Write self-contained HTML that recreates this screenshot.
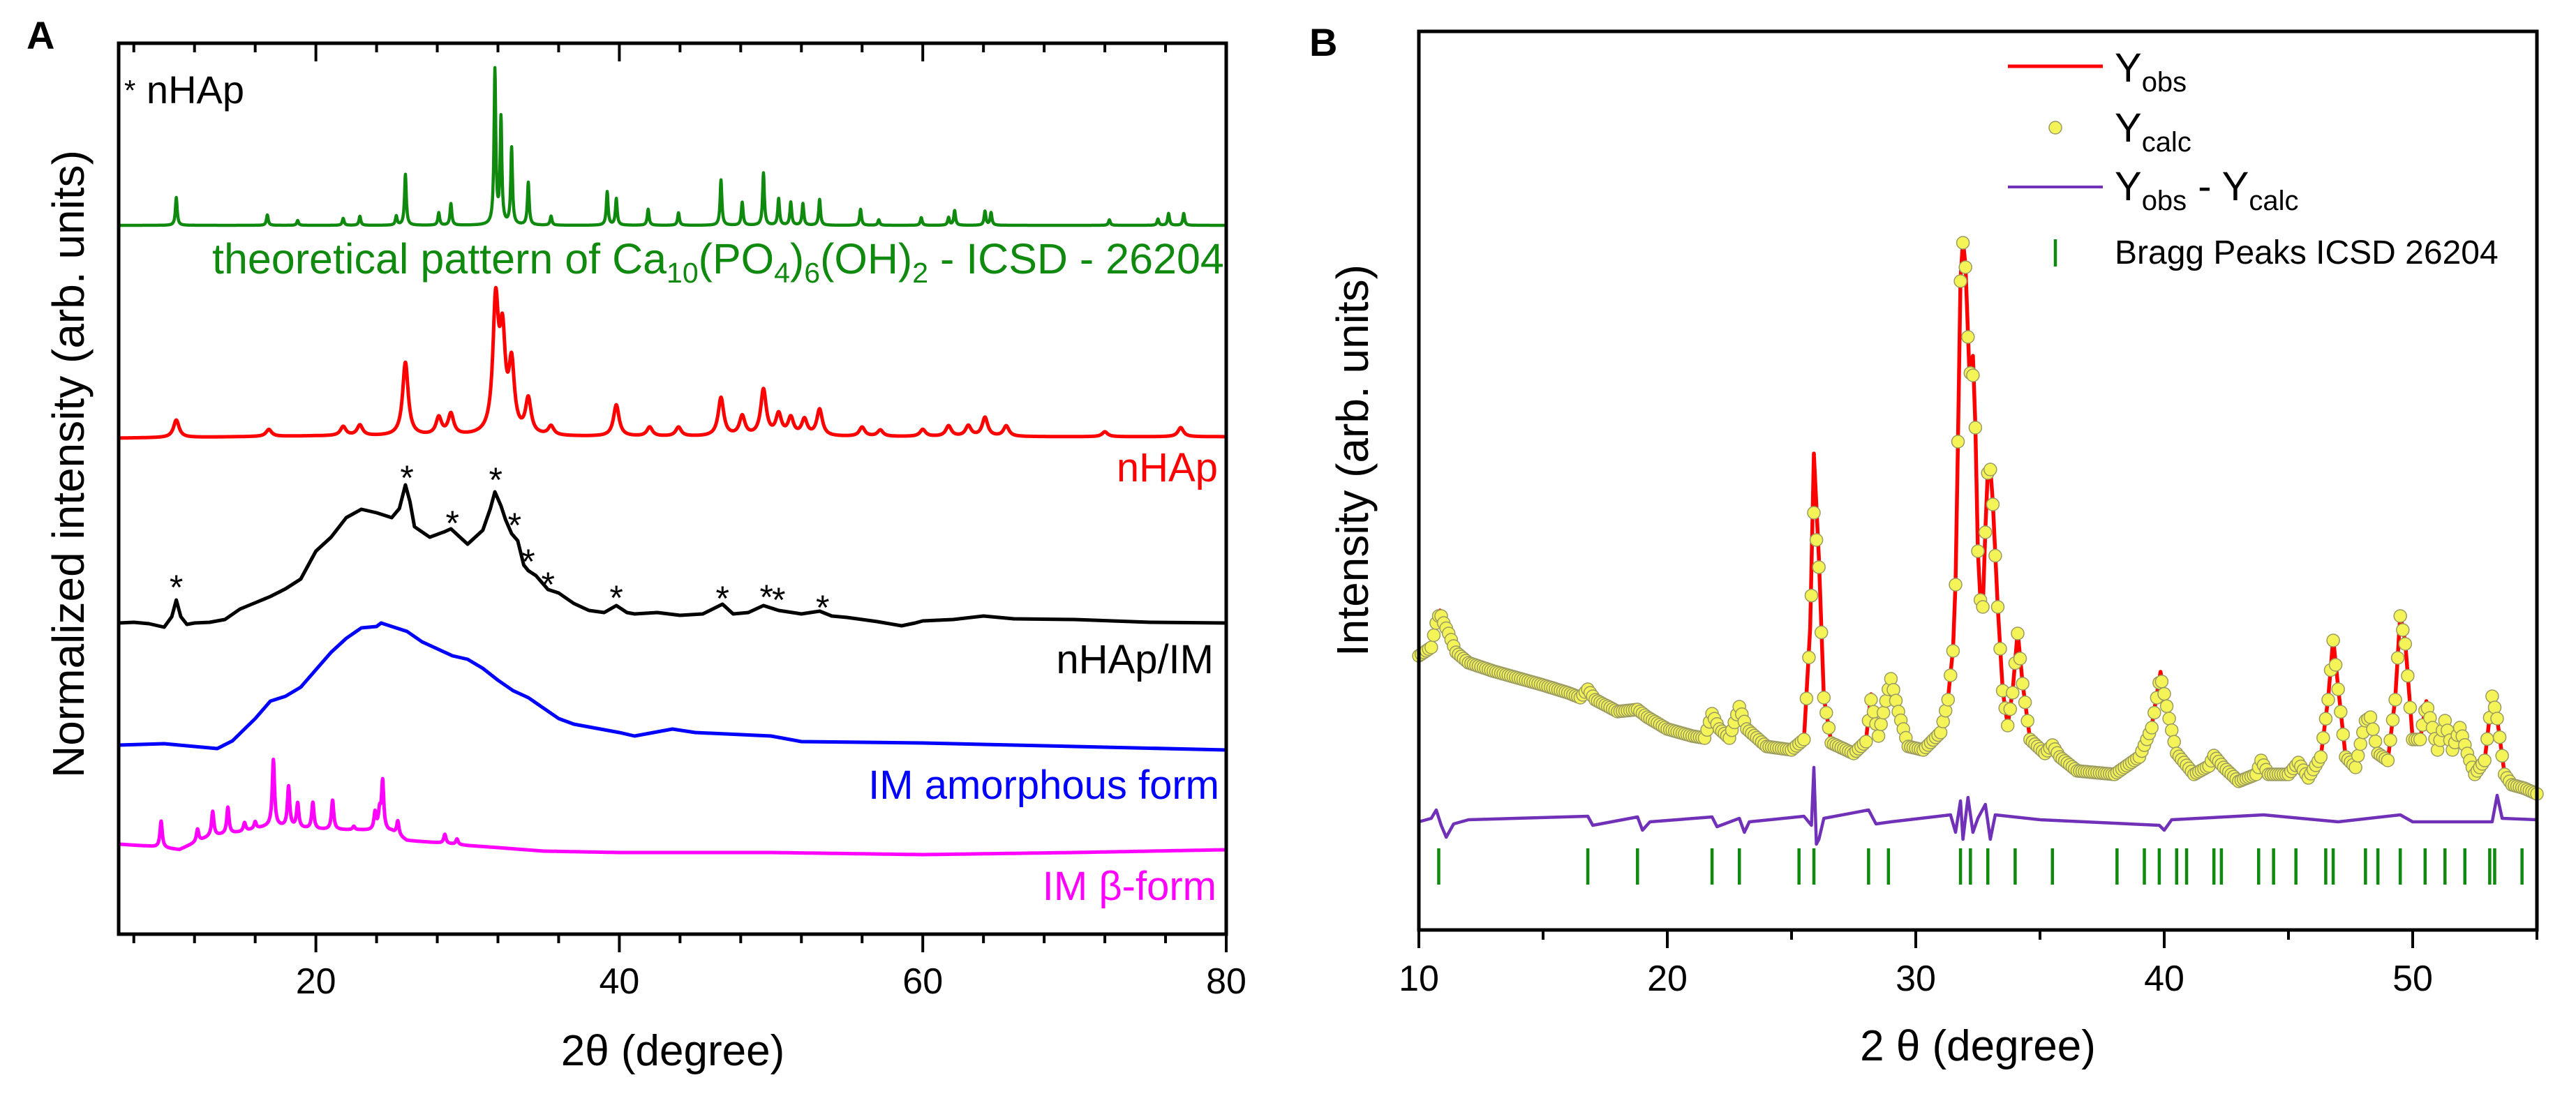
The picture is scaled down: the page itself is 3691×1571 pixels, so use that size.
<!DOCTYPE html>
<html><head><meta charset="utf-8"><style>
html,body{margin:0;padding:0;background:#fff;}
svg{display:block;font-family:"Liberation Sans",sans-serif;}
</style></head><body>
<svg id="fig" width="3691" height="1571" viewBox="0 0 3691 1571" xmlns="http://www.w3.org/2000/svg">
<rect width="3691" height="1571" fill="#fff"/>
<g id="panelA"></g>
<g id="panelB"></g>
</svg>
<script>
// ---------- Panel A data ----------
const greenPeakPos = [10.8,16.8,18.8,21.8,22.9,25.3,25.9,28.1,28.9,31.8,32.2,32.9,34.0,35.5,39.2,39.8,41.9,43.9,46.7,48.1,49.5,50.5,51.3,52.1,53.2,55.9,57.1,59.9,61.7,62.1,64.1,64.5,72.3,75.5,76.2,77.2];
const greenPeakH = [40,15,7,10,13,13,73,18,31,221,151,110,61,13,48,38,23,18,65,33,75,38,33,31,37,23,8,11,11,21,20,18,8,9,17,17];
const greenBase = [[7,1016],[80,1016]];
const redPeakPos = [10.8,16.9,21.8,22.9,25.9,28.1,28.9,31.85,32.3,32.9,34.0,35.5,39.8,42.0,43.9,46.7,48.1,49.5,50.5,51.3,52.2,53.2,56,57.2,60,61.7,63.0,64.1,65.5,72,77];
const redPeakH = [25,10,13,15,105,25,30,183,128,95,50,13,45,13,13,55,28,66,30,25,23,38,13,9,10,15,15,27,15,7,13];
const redBase = [[7,711],[20,714],[40,713],[80,713]];
const magPeakPos = [9.8,12.2,13.2,14.2,15.3,16.0,17.2,18.2,18.8,19.8,21.1,22.5,23.9,24.2,24.4,25.4,28.5,29.3];
const magPeakH = [38,18,35,38,12,10,95,58,35,38,42,5,25,25,70,20,13,8];
const magBase = [[7,129],[9,126],[11,121],[13,140],[15,146],[17,155],[20,150],[23,149],[25,147],[26,134],[28,131],[30,127],[32,124],[35,119],[40,117],[50,117],[60,114],[70,117],[80,121]];
const blackX = [7,8,9,10,10.5,10.8,11.1,11.5,12,13,14,15,16,17,18,19,20,21,22,23,24,25,25.5,25.9,26.2,26.5,27.5,28.5,28.9,29.5,30,31,31.5,31.8,32.2,32.5,32.9,33.3,33.7,34,34.5,35.3,36,37,38,39,39.8,40.5,41,42.5,44,45.5,46.8,47.5,48.5,49.5,50.5,52,53.2,54,55,57,58.6,59.5,60,62,64,66,70,75,80];
const blackY = [446,447,445,440,455,479,455,444,446,447,451,466,475,484,495,509,549,569,597,609,604,597,610,644,620,584,569,577,581,569,559,579,610,634,614,594,574,564,529,521,514,494,489,474,464,461,471,461,459,461,457,459,473,459,461,471,464,459,463,456,454,448,442,446,449,451,456,452,451,447,446];
const blueX = [7,10,12,13.5,14.5,16,17,18,19,20,21,22,23,24,24.3,25,26,27,28,29,30,31,32,33,34,35,36,37,38,40,41,42.5,43.5,45,50,52,60,70,80];
const blueY = [271,273,269,266,277,309,334,341,354,379,404,424,439,441,446,441,434,419,409,399,394,381,364,349,339,324,309,301,297,289,284,290,294,289,284,276,274,269,264];
const starX = [10.8,26.0,29.0,31.85,33.1,34.0,35.3,39.8,46.8,49.7,50.5,53.4];
const starY = [502,659,594,656,591,539,506,487,486,488,484,473];
const ticksA = [20,40,60,80];

// ---------- Panel B data ----------
const obsX = [10.0,10.5,10.7,10.85,11.0,11.2,11.5,12,13,14,15,16,16.5,16.8,17.1,18,18.8,19.2,20,21,21.5,21.8,22.1,22.5,22.9,23.2,24,25,25.5,25.75,25.9,26.1,26.3,26.6,27.5,28.0,28.2,28.5,28.9,29.0,29.3,29.7,30.3,31,31.3,31.5,31.6,31.7,31.8,31.9,32.0,32.15,32.3,32.4,32.5,32.6,32.7,32.8,32.9,33.0,33.1,33.3,33.5,33.7,33.9,34.1,34.3,34.6,35.2,35.5,35.8,36.5,38,39.0,39.5,39.85,40.2,40.5,41.2,41.8,42.0,42.4,43,43.7,43.9,44.2,45,45.4,45.8,46.3,46.6,46.8,47.0,47.3,47.7,48.1,48.3,48.6,49.0,49.3,49.5,49.7,50.0,50.3,50.55,50.8,51.0,51.3,51.6,51.9,52.2,52.5,52.9,53.2,53.4,53.7,54,54.5,55];
const obsY = [393,408,443,458,440,428,398,383,371,361,351,340,333,348,328,313,318,303,288,278,275,313,288,275,323,288,263,258,273,433,683,533,333,268,253,273,338,278,348,363,313,263,258,283,333,403,498,703,933,988,953,808,823,723,543,473,463,573,658,663,613,463,343,293,343,428,353,273,253,268,248,228,223,248,293,370,303,253,223,238,253,233,213,223,248,223,223,243,218,248,333,418,348,248,233,303,308,253,243,333,453,413,273,273,328,293,258,303,258,293,253,223,243,338,303,223,208,203,195];
const calcY = [393,405,440,455,440,425,398,383,371,361,351,340,333,345,330,313,316,305,288,278,275,310,288,275,320,288,263,258,273,420,598,520,333,268,253,270,330,278,345,360,313,263,258,283,330,400,495,700,930,985,950,800,795,720,543,473,463,570,655,660,610,463,343,293,340,425,353,273,253,265,248,228,223,248,290,365,303,253,223,235,250,233,213,223,243,223,223,240,218,248,330,415,345,248,233,300,305,253,243,330,450,410,273,273,325,290,258,300,258,290,253,223,243,335,303,223,208,203,195];
const diffX = [10,10.5,10.7,10.9,11.1,11.4,12,16.8,17,18.8,19,19.3,21.8,22,22.9,23.1,23.3,25.5,25.8,25.9,26.0,26.1,26.3,28.1,28.4,29,31.4,31.6,31.8,31.9,32.1,32.3,32.5,32.8,33.0,33.2,35,39.8,40,40.3,44,47,49.5,50,53.2,53.4,53.6,55];
const diffY = [155,160,172,150,133,152,158,163,150,162,143,155,162,148,160,140,155,163,150,233,123,130,160,172,152,155,165,140,185,130,190,140,160,180,130,165,158,150,143,158,165,155,165,155,155,193,160,158];
const braggPos = [10.8,16.8,18.8,21.8,22.9,25.3,25.9,28.1,28.9,31.8,32.2,32.9,34.0,35.5,38.1,39.2,39.8,40.5,40.9,42.0,42.3,43.8,44.4,45.3,46.5,46.8,48.1,48.6,49.5,50.5,51.3,52.1,53.1,53.3,54.4];
const ticksB = [10,20,30,40,50];

// ---------- helpers ----------
const NS = "http://www.w3.org/2000/svg";
function mk(parent, tag, attrs, text){
  const e = document.createElementNS(NS, tag);
  for (const k in attrs) e.setAttribute(k, attrs[k]);
  if (text !== undefined) e.textContent = text;
  parent.appendChild(e);
  return e;
}
function interp(pts, x){
  if (x <= pts[0][0]) return pts[0][1];
  for (let i=1;i<pts.length;i++){
    if (x <= pts[i][0]){
      const a=pts[i-1], b=pts[i];
      return a[1] + (b[1]-a[1])*(x-a[0])/(b[0]-a[0]);
    }
  }
  return pts[pts.length-1][1];
}
function zip(xs, ys){ return xs.map((x,i)=>[x, ys[i]]); }

// ---------- Panel A ----------
const A = {x0:170, x1:1757, y0:62, y1:1339, dmin:7, dmax:80};
const xA = d => A.x0 + (d - A.dmin) * (A.x1 - A.x0) / (A.dmax - A.dmin);
const yA = v => A.y1 - v;
const gA = document.getElementById('panelA');

function peakSeries(pos, h, base, hw){
  const pts = [];
  for (let d = A.dmin; d <= A.dmax + 1e-9; d += 0.02){
    let v = interp(base, d);
    for (let i=0;i<pos.length;i++){ const u=(d-pos[i])/hw; v += h[i]/(1+u*u); }
    pts.push(xA(d).toFixed(1)+','+yA(v).toFixed(1));
  }
  return pts.join(' ');
}
function ptsA(xs, ys){ return xs.map((x,i)=>xA(x).toFixed(1)+','+yA(ys[i]).toFixed(1)).join(' '); }

const lineGreen = mk(gA,'polyline',{points:peakSeries(greenPeakPos,greenPeakH,greenBase,0.07),fill:'none',stroke:'#0f8a0f','stroke-width':4.5,'stroke-linejoin':'round'});


const lineRed = mk(gA,'polyline',{points:peakSeries(redPeakPos,redPeakH,redBase,0.22),fill:'none',stroke:'#ff0000','stroke-width':5,'stroke-linejoin':'round'});


const lineBlack = mk(gA,'polyline',{points:ptsA(blackX,blackY),fill:'none',stroke:'#000','stroke-width':5,'stroke-linejoin':'round'});


const lineBlue = mk(gA,'polyline',{points:ptsA(blueX,blueY),fill:'none',stroke:'#0000ff','stroke-width':5,'stroke-linejoin':'round'});


const lineMag = mk(gA,'polyline',{points:peakSeries(magPeakPos,magPeakH,magBase,0.09),fill:'none',stroke:'#ff00ff','stroke-width':5,'stroke-linejoin':'round'});



starX.forEach((d,i)=>{
  const s = mk(gA,'text',{x:xA(d),y:yA(starY[i])+22,'font-size':50,'text-anchor':'middle',fill:'#000'},'*');
  
  
});

// axes A
const frameA = mk(gA,'rect',{x:A.x0,y:A.y0,width:A.x1-A.x0,height:A.y1-A.y0,fill:'none',stroke:'#000','stroke-width':5});


for (let d=8; d<=80; d+=4){
  const major = d%20===0;
  const t1 = mk(gA,'line',{x1:xA(d),x2:xA(d),y1:A.y1,y2:A.y1+(major?26:13),stroke:'#000','stroke-width':4});
  
  
  const t2 = mk(gA,'line',{x1:xA(d),x2:xA(d),y1:A.y0,y2:A.y0+(major?26:13),stroke:'#000','stroke-width':4});
  
  
}
ticksA.forEach(d=>{
  const t = mk(gA,'text',{x:xA(d),y:1424,'font-size':52,'text-anchor':'middle',fill:'#000'},String(d));
  
  
});
</script>
<script>
// static labels panel A
(function(){
const gA = document.getElementById('panelA');
gA.insertAdjacentHTML('beforeend',
 '<text x="38" y="70" font-size="56" font-weight="bold" fill="#000">A</text>'+
 '<text x="178" y="148" font-size="56" fill="#000"><tspan font-size="42" dy="-4">*</tspan><tspan dy="4"> nHAp</tspan></text>'+
 '<text x="304" y="392" font-size="61" fill="#0f8a0f">theoretical pattern of Ca<tspan font-size="41" dy="13">10</tspan><tspan dy="-13">(PO</tspan><tspan font-size="41" dy="13">4</tspan><tspan dy="-13">)</tspan><tspan font-size="41" dy="13">6</tspan><tspan dy="-13">(OH)</tspan><tspan font-size="41" dy="13">2</tspan><tspan dy="-13"> - ICSD - 26204</tspan></text>'+
 '<text x="1745" y="690" font-size="58" text-anchor="end" fill="#ff0000">nHAp</text>'+
 '<text x="1739" y="965" font-size="58" text-anchor="end" fill="#000">nHAp/IM</text>'+
 '<text x="1747" y="1145" font-size="58" text-anchor="end" fill="#0000ff">IM amorphous form</text>'+
 '<text x="1743" y="1290" font-size="58" text-anchor="end" fill="#ff00ff">IM β-form</text>'+
 '<text transform="translate(120,665) rotate(-90)" font-size="64" text-anchor="middle" fill="#000">Normalized intensity (arb. units)</text>'+
 '<text x="964" y="1527" font-size="62" text-anchor="middle" fill="#000">2θ (degree)</text>');
})();
</script>
<script>
// ---------- Panel B ----------
(function(){
const B = {x0:2033, x1:3635, y0:45, y1:1333, dmin:10, dmax:55};
const xB = d => B.x0 + (d - B.dmin) * (B.x1 - B.x0) / (B.dmax - B.dmin);
const yB = v => B.y1 - v;
const gB = document.getElementById('panelB');
const ptsB = (xs, ys) => xs.map((x,i)=>xB(x).toFixed(1)+','+yB(ys[i]).toFixed(1)).join(' ');

const obs = mk(gB,'polyline',{points:ptsB(obsX,obsY),fill:'none',stroke:'#ff0000','stroke-width':5.5,'stroke-linejoin':'round'});



const calcPts = zip(obsX, calcY);
const gDots = mk(gB,'g',{});


for (let d=10; d<=55.001; d+=0.1){
  const c = mk(gDots,'circle',{cx:xB(d).toFixed(1),cy:yB(interp(calcPts,d)).toFixed(1),r:9,fill:'#f4f458',stroke:'#9a9a60','stroke-width':1.5});
  
  
}

const diff = mk(gB,'polyline',{points:ptsB(diffX,diffY),fill:'none',stroke:'#7030b8','stroke-width':4.5,'stroke-linejoin':'round'});



braggPos.forEach(d=>{
  const b = mk(gB,'line',{x1:xB(d),x2:xB(d),y1:1216,y2:1268,stroke:'#0f8a0f','stroke-width':4.5});
  
  
});

const frameB = mk(gB,'rect',{x:B.x0,y:B.y0,width:B.x1-B.x0,height:B.y1-B.y0,fill:'none',stroke:'#000','stroke-width':5});


for (let d=10; d<=55; d+=5){
  const major = d%10===0;
  const t = mk(gB,'line',{x1:xB(d),x2:xB(d),y1:B.y1,y2:B.y1+(major?26:14),stroke:'#000','stroke-width':4});
  
  
}
ticksB.forEach(d=>{
  const t = mk(gB,'text',{x:xB(d),y:1420,'font-size':52,'text-anchor':'middle',fill:'#000'},String(d));
  
  
});

gB.insertAdjacentHTML('beforeend',
 '<text x="1876" y="80" font-size="56" font-weight="bold" fill="#000">B</text>'+
 '<line x1="2877" x2="3013" y1="95" y2="95" stroke="#ff0000" stroke-width="5"/>'+
 '<text x="3030" y="117" font-size="58" fill="#000">Y<tspan font-size="40" dy="14">obs</tspan></text>'+
 '<circle cx="2945" cy="183" r="9" fill="#f4f458" stroke="#9a9a60" stroke-width="1.5"/>'+
 '<text x="3030" y="203" font-size="58" fill="#000">Y<tspan font-size="40" dy="14">calc</tspan></text>'+
 '<line x1="2877" x2="3013" y1="268" y2="268" stroke="#7030b8" stroke-width="4"/>'+
 '<text x="3030" y="287" font-size="58" fill="#000">Y<tspan font-size="40" dy="14">obs</tspan><tspan dy="-14"> - Y</tspan><tspan font-size="40" dy="14">calc</tspan></text>'+
 '<line x1="2945" x2="2945" y1="343" y2="382" stroke="#0f8a0f" stroke-width="4.5"/>'+
 '<text x="3030" y="378" font-size="48" fill="#000">Bragg Peaks ICSD 26204</text>'+
 '<text transform="translate(1960,660) rotate(-90)" font-size="64" text-anchor="middle" fill="#000">Intensity (arb. units)</text>'+
 '<text x="2834" y="1520" font-size="62" text-anchor="middle" fill="#000">2 θ (degree)</text>');
})();
</script>
</body></html>
